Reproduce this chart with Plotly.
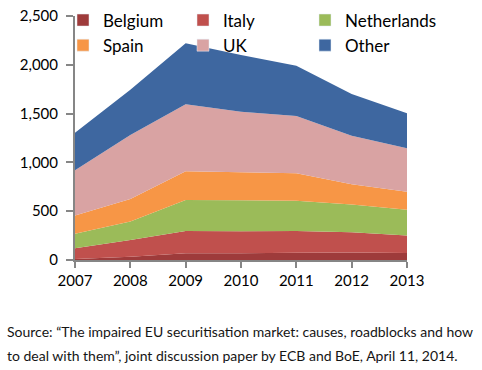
import plotly.graph_objects as go

years = [2007, 2008, 2009, 2010, 2011, 2012, 2013]
belgium = [10, 34, 68, 68, 75, 77, 72]
italy = [110, 171, 230, 226, 222, 208, 180]
netherlands = [150, 190, 317, 317, 311, 283, 263]
spain = [185, 230, 295, 287, 280, 207, 185]
uk = [465, 655, 685, 622, 587, 497, 444]
other = [385, 465, 625, 580, 515, 428, 359]
series_names = ["Belgium", "Italy", "Netherlands", "Spain", "UK", "Other"]
series_values = [belgium, italy, netherlands, spain, uk, other]
series_colors = ["#9E3B3B", "#C0504D", "#9BBB59", "#F79646", "#D9A3A3", "#3E67A0"]
y_ticks = [0, 500, 1000, 1500, 2000, 2500]
source_lines = [
    "Source: \u201cThe impaired EU securitisation market: causes, roadblocks and how",
    "to deal with them\u201d, joint discussion paper by ECB and BoE, April 11, 2014.",
]

W, H = 482, 370
ML, MR, MT, MB = 75, 75, 16, 110
PW, PH = W - ML - MR, H - MT - MB

# legend column per series (3 columns, 2 rows)
legend_ids = ["legend", "legend2", "legend3", "legend", "legend2", "legend3"]
legend_left_px = {"legend": 63, "legend2": 183, "legend3": 305}

fig = go.Figure()
for name, vals, col in zip(series_names, series_values, series_colors):
    fig.add_trace(go.Scatter(
        x=years, y=vals, name=name, stackgroup="one", mode="none",
        fillcolor=col, line=dict(width=0), showlegend=False,
        hoverinfo="x+y+name",
    ))
# legend entries (square swatches)
for name, col, lg in zip(series_names, series_colors, legend_ids):
    fig.add_trace(go.Bar(x=[None], y=[None], name=name, marker=dict(color=col),
                         showlegend=True, legend=lg))

legend_font = dict(size=17, family="Lato, sans-serif", color="#000000")
legend_y = 1 + (MT - 2.5) / PH
legend_layouts = {}
for lg, lpx in legend_left_px.items():
    legend_layouts[lg] = dict(
        orientation="v", x=(lpx - ML) / PW, xanchor="left",
        y=legend_y, yanchor="top", font=legend_font,
        bgcolor="rgba(0,0,0,0)", traceorder="normal",
    )

grey = "#868686"
fig.update_layout(
    width=W, height=H,
    margin=dict(l=ML, r=MR, t=MT, b=MB, autoexpand=False),
    paper_bgcolor="white", plot_bgcolor="white",
    font=dict(family="Lato, sans-serif", color="#000000"),
    showlegend=True,
    **legend_layouts,
    xaxis=dict(
        range=[years[0], years[-1]], tickmode="array", tickvals=years,
        ticktext=[str(y) for y in years],
        showgrid=False, zeroline=False, showline=True, linecolor=grey, linewidth=2,
        ticks="outside", ticklen=6, tickcolor=grey, tickwidth=1.5,
        tickfont=dict(size=15, family="Lato, sans-serif", color="#000000"),
        fixedrange=True,
    ),
    yaxis=dict(
        range=[0, 2500], tickmode="array", tickvals=y_ticks, tickformat=",d",
        showgrid=False, zeroline=False, showline=True, linecolor=grey, linewidth=2,
        ticks="outside", ticklen=7, tickcolor=grey, tickwidth=1.5,
        ticklabelstandoff=5,
        tickfont=dict(size=15, family="Lato, sans-serif", color="#000000"),
        fixedrange=True,
    ),
)

for line, ypx in zip(source_lines, [331, 355]):
    fig.add_annotation(
        text=line, xref="paper", yref="paper",
        x=(5 - ML) / PW, xanchor="left",
        y=(MT + PH - ypx) / PH, yanchor="middle",
        showarrow=False, align="left",
        font=dict(family="Lato, sans-serif", size=14, color="#151515"),
    )

fig.write_html("out.html", config={"displayModeBar": False},
               post_script="document.body.style.margin='0';")
